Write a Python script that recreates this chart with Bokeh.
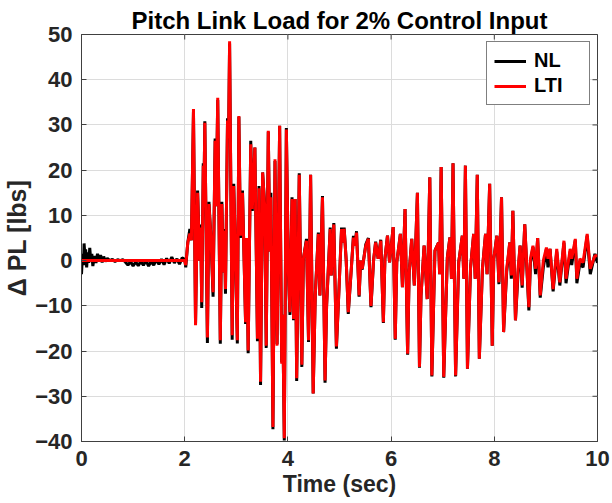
import math
from bokeh.plotting import figure
from bokeh.models import Range1d, FixedTicker, Legend, LegendItem
from bokeh.embed import file_html
from bokeh.resources import INLINE

# ---------------- data ----------------
x_ticks = [0, 2, 4, 6, 8, 10]
y_ticks = [-40, -30, -20, -10, 0, 10, 20, 30, 40, 50]

lti_t = [
    0.00, 2.00, 2.02, 2.06, 2.10, 2.13, 2.17, 2.21, 2.25, 2.29,
    2.31, 2.33, 2.36, 2.37, 2.39, 2.44, 2.47, 2.51, 2.55, 2.59,
    2.61, 2.64, 2.69, 2.72, 2.75, 2.77, 2.79, 2.83, 2.85, 2.87,
    2.92, 2.95, 2.98, 3.02, 3.05, 3.08, 3.12, 3.18, 3.20, 3.23,
    3.28, 3.31, 3.36, 3.41, 3.44, 3.47, 3.51, 3.55, 3.58, 3.62,
    3.65, 3.67, 3.71, 3.75, 3.79, 3.84, 3.88, 3.90, 3.93, 3.97,
    4.01, 4.04, 4.08, 4.11, 4.14, 4.17, 4.22, 4.27, 4.30, 4.36,
    4.40, 4.44, 4.49, 4.53, 4.59, 4.62, 4.67, 4.72, 4.75, 4.82,
    4.84, 4.89, 4.94, 4.98, 5.04, 5.06, 5.09, 5.13, 5.17, 5.22,
    5.27, 5.30, 5.33, 5.38, 5.41, 5.44, 5.51, 5.56, 5.61, 5.66,
    5.70, 5.75, 5.80, 5.85, 5.88, 5.93, 5.97, 6.04, 6.08, 6.11,
    6.18, 6.22, 6.27, 6.32, 6.35, 6.40, 6.45, 6.51, 6.55, 6.58,
    6.64, 6.70, 6.75, 6.79, 6.85, 6.92, 6.94, 6.97, 7.02, 7.09,
    7.14, 7.17, 7.20, 7.25, 7.31, 7.38, 7.41, 7.44, 7.48, 7.54,
    7.60, 7.63, 7.67, 7.71, 7.77, 7.83, 7.86, 7.91, 7.96, 7.99,
    8.05, 8.09, 8.14, 8.18, 8.24, 8.30, 8.33, 8.36, 8.41, 8.46,
    8.50, 8.54, 8.59, 8.67, 8.70, 8.75, 8.80, 8.84, 8.89, 8.95,
    9.01, 9.04, 9.08, 9.14, 9.21, 9.27, 9.35, 9.39, 9.47, 9.50,
    9.57, 9.60, 9.66, 9.72, 9.80, 9.86, 9.95, 10.00,
]

lti_v = [
    0.0, 0.0, -1.0, 4.0, 6.0, 4.5, 33.5, -14.3, 15.0, 0.0,
    7.3, -9.2, 21.0, 12.0, 30.5, -17.0, 12.5, 4.8, -7.0, 26.5,
    12.0, 36.0, -17.6, 12.5, -2.6, 6.6, -6.3, 31.0, 27.0, 48.5,
    -16.5, 16.5, 4.0, -17.6, 32.0, 5.5, 15.0, -13.6, 5.0, -19.9,
    25.7, 11.4, 25.0, -17.3, 16.0, -26.8, 19.5, 12.0, -18.8, 28.7,
    2.0, 14.0, -36.8, 22.4, -18.8, 29.8, -22.8, -12.0, -39.3, 29.0,
    -2.6, -11.4, 13.6, -12.9, 13.6, -26.0, 19.0, -23.0, 0.4, 4.4,
    -17.6, 19.0, -29.4, -7.7, 5.9, -7.7, 14.0, -26.5, -10.0, 7.0,
    -3.3, 8.0, -19.0, -9.0, 7.0, 4.0, 7.0, 0.0, -11.4, -3.3,
    5.1, 3.3, 6.2, -7.7, 0.0, -1.8, 3.3, 4.8, -10.0, 0.0,
    4.0, 0.4, 4.4, -13.6, 0.4, 5.5, -0.4, 7.4, -17.3, -0.4,
    5.9, -5.9, 11.4, -20.6, -2.6, 4.8, -5.5, 15.0, -23.5, -7.7,
    3.3, -8.5, 18.4, -25.4, 2.2, 4.0, -3.0, 20.7, -25.7, 0.7,
    5.1, -4.0, 21.5, -25.4, -0.4, 5.5, -4.0, 21.0, -23.9, -1.5,
    5.9, -4.0, 19.0, -21.7, -1.8, 5.9, -3.0, 17.0, -18.8, 0.4,
    5.5, -4.8, 14.0, -15.8, -1.8, 4.0, -3.3, 11.0, -13.2, -1.8,
    3.3, -5.5, 8.0, -10.3, 0.4, 3.3, -1.8, 5.0, -7.7, 0.0,
    2.9, 0.4, 2.6, -6.3, 2.6, -4.8, 4.4, -4.0, 2.6, 0.4,
    4.8, -4.0, 0.4, -0.4, 5.9, -1.8, 1.1, 1.1,
]

nl_early_t = [
    0.00, 0.02, 0.04, 0.05, 0.07, 0.08, 0.10, 0.12, 0.14, 0.16,
    0.18, 0.20, 0.22, 0.25, 0.28, 0.31, 0.34, 0.37, 0.40, 0.43,
    0.46, 0.50, 0.55, 0.60, 0.65, 0.70, 0.75, 0.80, 0.85, 0.90,
    0.95, 1.00, 1.05, 1.10, 1.15, 1.20, 1.25, 1.30, 1.35, 1.40,
    1.45, 1.50, 1.55, 1.60, 1.65, 1.70, 1.75, 1.80, 1.85, 1.90,
    1.95,
]
nl_early_v = [
    -3.0, 1.5, -1.0, 3.8, 0.5, 2.5, -1.5, 1.8, -0.5, 2.8,
    0.0, 1.5, -1.2, 1.0, -0.5, 1.5, 0.2, 1.2, -0.4, 0.9,
    -0.2, 0.5, 0.0, 0.3, -0.2, 0.2, 0.0, 0.2, -0.3, -1.0,
    -0.2, -1.2, -0.3, -1.1, -0.2, -1.0, 0.0, -1.2, -0.2, -1.0,
    0.2, -0.8, 0.3, -0.9, 0.5, -0.6, 0.8, -0.5, 0.4, -0.8,
    0.6,
]
# NL response after the input (same sample times as lti_t[1:])
nl_late_v = [
    0.3, -1.5, 4.0, 7.0, 4.5, 33.0, -14.0, 15.5, 0.0,
    8.0, -10.5, 21.5, 12.0, 30.8, -18.2, 13.0, 4.8, -8.0, 27.0,
    12.0, 35.5, -18.4, 13.0, -2.6, 7.0, -7.3, 31.5, 27.0, 48.0,
    -17.5, 17.0, 3.5, -18.3, 31.8, 5.0, 15.5, -14.0, 5.0, -20.5,
    26.5, 11.0, 25.0, -17.8, 16.5, -27.5, 19.5, 12.5, -19.3, 28.5,
    2.0, 15.0, -37.3, 22.0, -18.5, 29.8, -22.5, -12.0, -39.8, 29.3,
    -2.6, -12.0, 14.0, -13.2, 13.6, -26.6, 19.3, -23.5, 0.4, 4.8,
    -18.0, 19.0, -29.4, -7.7, 6.2, -7.7, 14.3, -27.0, -10.0, 7.3,
    -3.3, 8.3, -19.5, -9.0, 7.3, 4.0, 7.3, 0.0, -11.8, -3.3,
    5.5, 3.3, 6.5, -8.0, 0.0, -2.0, 3.6, 5.0, -10.3, 0.0,
    4.2, 0.4, 4.6, -13.8, 0.4, 5.5, -0.4, 7.4, -17.5, -0.4,
    5.9, -5.9, 11.4, -20.8, -2.6, 4.8, -5.5, 15.0, -23.7, -7.7,
    3.3, -8.5, 18.4, -25.6, 2.2, 4.0, -3.0, 20.7, -25.9, 0.7,
    5.1, -4.0, 21.5, -25.6, -0.4, 5.5, -4.0, 21.0, -23.9, -1.5,
    5.9, -4.0, 19.0, -21.7, -1.8, 5.9, -3.0, 17.0, -18.8, 0.4,
    5.5, -5.2, 14.0, -15.8, -2.5, 4.0, -4.0, 11.0, -13.2, -3.0,
    3.3, -6.0, 8.0, -11.0, -0.5, 3.0, -3.0, 5.0, -8.2, -1.5,
    2.5, -1.5, 2.6, -6.8, 2.0, -5.5, 4.0, -5.0, 2.0, -1.0,
    4.5, -5.0, -0.5, -1.5, 5.5, -3.0, 1.5, -0.5,
]

nl_t = nl_early_t + lti_t[1:]
nl_v = nl_early_v + nl_late_v
assert len(lti_t) == len(lti_v)
assert len(nl_t) == len(nl_v)

# ---------------- figure ----------------
FONT = "Liberation Sans"
TXT = "#262626"
AX = "#404040"

p = figure(width=612, height=503,
           x_range=Range1d(0, 10), y_range=Range1d(-40, 50),
           output_backend="svg", toolbar_location=None,
           min_border_left=80, min_border_right=15,
           min_border_top=34, min_border_bottom=62,
           background_fill_color="white", border_fill_color="white",
           outline_line_color=AX, outline_line_width=1)

p.title.text = "Pitch Link Load for 2% Control Input"
p.title.align = "center"
p.title.text_font = FONT
p.title.text_font_style = "bold"
p.title.text_font_size = "24px"
p.title.text_color = "#000000"
p.title.standoff = 2
p.title.offset = 0

for ax in (p.xaxis[0], p.yaxis[0]):
    ax.major_label_text_font = FONT
    ax.major_label_text_font_style = "bold"
    ax.major_label_text_font_size = "22px"
    ax.major_label_text_color = TXT
    ax.axis_label_text_font = FONT
    ax.axis_label_text_font_style = "bold"
    ax.axis_label_text_font_size = "23px"
    ax.axis_label_text_color = TXT
    ax.axis_line_color = AX
    ax.major_tick_line_color = AX
    ax.major_tick_in = 5
    ax.major_tick_out = 0
    ax.minor_tick_line_color = None

p.xaxis.ticker = FixedTicker(ticks=x_ticks)
p.yaxis.ticker = FixedTicker(ticks=y_ticks)
p.xaxis.axis_label = "Time (sec)"
p.yaxis.axis_label = "\u0394 PL [lbs]"
p.yaxis.axis_label_text_font_size = "25px"
p.xaxis.major_label_standoff = 9
p.yaxis.major_label_standoff = 9
p.xaxis.axis_label_standoff = 2
p.yaxis.axis_label_standoff = 1

p.xgrid.ticker = FixedTicker(ticks=x_ticks)
p.ygrid.ticker = FixedTicker(ticks=y_ticks)
p.grid.grid_line_color = "#dcdcdc"
p.grid.grid_line_width = 1

# inward tick marks on the right and top edges of the box
p.scatter([x_ticks[-1]] * len(y_ticks), y_ticks, marker="dash", size=10,
          line_color=AX, line_width=1)
p.scatter(x_ticks, [y_ticks[-1]] * len(x_ticks), marker="dash", size=10,
          angle=math.pi / 2, line_color=AX, line_width=1)

r_nl = p.line(nl_t, nl_v, line_color="#000000", line_width=3)
r_lti = p.line(lti_t, lti_v, line_color="#ff0000", line_width=3)

legend = Legend(items=[LegendItem(label="NL", renderers=[r_nl]),
                       LegendItem(label="LTI", renderers=[r_lti])],
                location="top_right")
legend.label_text_font = FONT
legend.label_text_font_style = "bold"
legend.label_text_font_size = "20px"
legend.label_text_color = "#000000"
legend.border_line_color = "#000000"
legend.border_line_width = 1
legend.background_fill_alpha = 1.0
legend.glyph_width = 32
legend.glyph_height = 18
legend.label_height = 18
legend.label_width = 48
legend.label_standoff = 8
legend.padding = 7
legend.spacing = 2
legend.margin = 7
p.add_layout(legend)

open("out.html", "w").write(file_html(p, INLINE))
